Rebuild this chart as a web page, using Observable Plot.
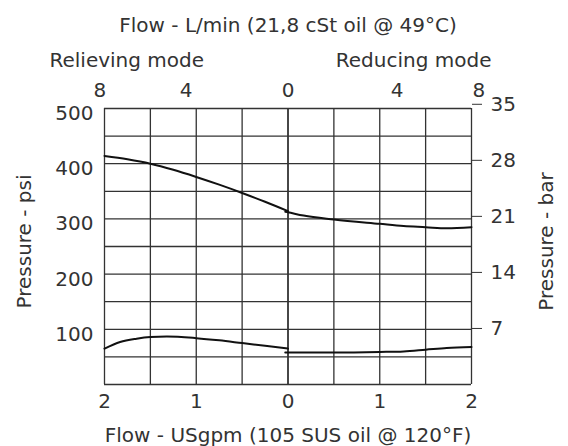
<!DOCTYPE html>
<html>
<head>
<meta charset="utf-8">
<script src="https://cdn.jsdelivr.net/npm/d3@7"></script>
<script src="https://cdn.jsdelivr.net/npm/@observablehq/plot@0.6"></script>
<style>
  html, body { margin: 0; padding: 0; background: #fff; }
  #chart { width: 568px; height: 446px; }
</style>
</head>
<body>
<div id="chart"></div>
<script>
// ---- data ----
const flowTicksGpm = [-2, -1, 0, 1, 2];
const lminLabels = [8, 4, 0, 4, 8];
const lminPosGpm = [-2.05, -1.11, 0, 1.19, 2.08];
const psiTicks = [100, 200, 300, 400, 500];
const barTicks = [7, 14, 21, 28, 35];
const gridXGpm = [-2, -1.5, -1, -0.5, 0, 0.5, 1, 1.5, 2];
const gridYPsi = [0, 50, 100, 150, 200, 250, 300, 350, 400, 450, 500];

// curves: x = flow in USgpm (negative = relieving mode), y = pressure psi
const relUpperX = [-2, -1.75, -1.5, -1.25, -1.0, -0.75, -0.5, -0.25, 0];
const relUpperY = [414, 408, 400, 389, 376, 362, 347, 331, 314];
const redUpperX = [-0.03, 0, 0.17, 0.5, 1.0, 1.26, 1.5, 1.73, 2];
const redUpperY = [313, 312, 306, 299, 291, 287, 285, 283, 285];
const relLowerX = [-2, -1.83, -1.65, -1.5, -1.32, -1.0, -0.75, -0.5, -0.25, 0];
const relLowerY = [65, 77, 83, 86, 87, 84, 80, 75, 70, 65];
const redLowerX = [-0.03, 0, 0.5, 1.0, 1.26, 1.5, 1.73, 2];
const redLowerY = [58, 58, 58, 59, 60, 63, 66, 68];

const PSI_PER_BAR = 14.5038;

const rows = [];
function addSeries(name, xs, ys) {
  xs.forEach((x, i) => rows.push({series: name, flow: x, psi: ys[i]}));
}
addSeries("relUpper", relUpperX, relUpperY);
addSeries("redUpper", redUpperX, redUpperY);
addSeries("relLower", relLowerX, relLowerY);
addSeries("redLower", redLowerX, redLowerY);

const FONT = "'DejaVu Sans', 'Liberation Sans', Arial, sans-serif";
const TXT = "#333";
const FS = 20;

const chart = Plot.plot({
  width: 568,
  height: 446,
  marginLeft: 104,
  marginRight: 97,
  marginTop: 108,
  marginBottom: 62,
  style: {fontFamily: FONT, fontSize: FS + "px", color: TXT, background: "#fff", overflow: "visible"},
  x: {domain: [-2, 2]},
  y: {domain: [0, 500]},
  marks: [
    Plot.ruleX(gridXGpm, {stroke: "#333", strokeWidth: (d) => d === 0 ? 1.8 : 1.3}),
    Plot.ruleY(gridYPsi, {stroke: "#333", strokeWidth: 1.3}),
    Plot.line(rows, {x: "flow", y: "psi", z: "series", stroke: "#111", strokeWidth: 2, curve: "monotone-x"}),
    Plot.axisX({anchor: "bottom", ticks: flowTicksGpm, tickFormat: (d) => Math.abs(d), tickSize: 0, tickPadding: 9, label: null, fontSize: FS, fill: TXT}),
    Plot.axisX({anchor: "top", ticks: lminPosGpm, tickFormat: (d, i) => lminLabels[i], tickSize: 0, tickPadding: 12, label: null, fontSize: FS, fill: TXT}),
    Plot.axisY({anchor: "left", ticks: psiTicks, tickSize: 0, tickPadding: 11, dy: 5, label: null, fontSize: FS, fill: TXT}),
    Plot.axisY({anchor: "right", ticks: barTicks.map((b) => b * PSI_PER_BAR), tickFormat: (d, i) => barTicks[i], tickSize: 10, tickPadding: 9, label: null, fontSize: FS, fill: TXT, stroke: "#333"}),
    Plot.text(["Flow - L/min (21,8 cSt oil @ 49°C)"], {frameAnchor: "top", textAnchor: "middle", lineAnchor: "middle", dy: -83, fontSize: FS, fill: TXT}),
    Plot.text(["Relieving mode"], {frameAnchor: "top-left", textAnchor: "start", lineAnchor: "middle", dx: -55, dy: -48, fontSize: FS, fill: TXT}),
    Plot.text(["Reducing mode"], {frameAnchor: "top-right", textAnchor: "end", lineAnchor: "middle", dx: 20, dy: -48, fontSize: FS, fill: TXT}),
    Plot.text(["Pressure - psi"], {frameAnchor: "left", textAnchor: "middle", lineAnchor: "middle", rotate: -90, dx: -80, dy: -5, fontSize: FS, fill: TXT}),
    Plot.text(["Pressure - bar"], {frameAnchor: "right", textAnchor: "middle", lineAnchor: "middle", rotate: -90, dx: 75, dy: -5, fontSize: FS, fill: TXT}),
    Plot.text(["Flow - USgpm (105 SUS oil @ 120°F)"], {frameAnchor: "bottom", textAnchor: "middle", lineAnchor: "middle", dy: 51, fontSize: FS, fill: TXT})
  ]
});
document.getElementById("chart").appendChild(chart);
</script>
</body>
</html>
